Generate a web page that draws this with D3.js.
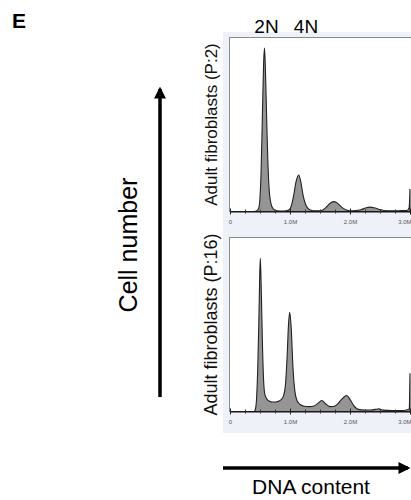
<!DOCTYPE html>
<meta charset="utf-8">
<style>
body { margin: 0; background: #fff; }
text { font-family: "Liberation Sans", Arial, sans-serif; }
.tick text { fill: #555; font-size: 6px; }
</style>
<svg width="411" height="500"></svg>
<script src="https://d3js.org/d3.v7.min.js"></script>
<script>
// DNA content (millions) and cell counts (% of panel height)
var p2DNA   = [0, 0.40, 0.45, 0.48, 0.50, 0.52, 0.54, 0.56, 0.575, 0.59, 0.61, 0.63, 0.65, 0.68, 0.72, 0.78, 0.90, 0.98, 1.02, 1.06, 1.10, 1.145, 1.18, 1.22, 1.26, 1.32, 1.40, 1.50, 1.56, 1.62, 1.68, 1.74, 1.80, 1.86, 1.93, 2.00, 2.10, 2.18, 2.26, 2.33, 2.40, 2.48, 2.56, 2.70, 2.85, 2.95, 2.985, 3.0];
var p2Count = [0, 0, 0.5, 2, 8, 25, 55, 85, 94, 82, 55, 30, 14, 5, 1.5, 0.4, 0.3, 0.8, 3, 9, 17, 21, 17, 9, 4, 1.2, 0.4, 0.4, 1.2, 3, 5, 5.7, 4.5, 2.5, 1, 0.4, 0.5, 1, 2, 2.5, 2.2, 1.3, 0.6, 0.4, 0.5, 0.6, 2, 13];

var p16DNA   = [0, 0.40, 0.42, 0.44, 0.46, 0.48, 0.495, 0.505, 0.52, 0.54, 0.56, 0.58, 0.61, 0.65, 0.70, 0.76, 0.82, 0.88, 0.92, 0.95, 0.975, 0.995, 1.02, 1.05, 1.08, 1.12, 1.17, 1.24, 1.32, 1.40, 1.46, 1.53, 1.60, 1.67, 1.74, 1.80, 1.86, 1.945, 2.00, 2.06, 2.14, 2.25, 2.35, 2.42, 2.48, 2.55, 2.70, 2.90, 2.985, 3.0];
var p16Count = [0, 0, 1, 6, 22, 50, 78, 88, 72, 40, 18, 10, 7.5, 6, 5.5, 5.5, 6, 8, 14, 30, 50, 57, 48, 25, 12, 6, 4, 3, 2.8, 3.2, 4.5, 6.3, 4.2, 2.8, 3, 4.5, 7, 9.2, 7, 3.5, 1.2, 0.9, 0.9, 1.2, 1.5, 0.8, 0.6, 0.6, 1.5, 22];

var majorTicks = [0, 1, 2, 3];
var tickLabels = ["0", "1.0M", "2.0M", "3.0M"];
var minorTicks = d3.range(0, 3.01, 0.25);

var panels = [
  {label: "Adult fibroblasts (P:2)",  dna: p2DNA,  count: p2Count,  top: 37.5,  base: 211.5, bgTop: 32,  bgBottom: 232, fs: 17},
  {label: "Adult fibroblasts (P:16)", dna: p16DNA, count: p16Count, top: 237.5, base: 411.5, bgTop: 232, bgBottom: 433, fs: 18}
];

var svg = d3.select("svg");
var x = d3.scaleLinear().domain([0, 3]).range([230, 410]);

panels.forEach(function(p) {
  var y = d3.scaleLinear().domain([0, 100]).range([p.base, p.top]);
  var g = svg.append("g");

  // light backdrop of the cytometer export
  g.append("rect")
    .attr("x", 223).attr("y", p.bgTop)
    .attr("width", 200).attr("height", p.bgBottom - p.bgTop)
    .attr("fill", "#eef2f8");
  g.append("rect")
    .attr("x", 229.5).attr("y", p.top)
    .attr("width", 190).attr("height", p.base - p.top)
    .attr("fill", "#fff").attr("stroke", "#8a8a8a").attr("stroke-width", 1);

  var pts = p.dna.map(function(d, i) { return [d, p.count[i]]; });

  g.append("path")
    .datum(pts)
    .attr("fill", "#959595")
    .attr("stroke", "#222")
    .attr("stroke-width", 1.1)
    .attr("d", d3.area()
      .curve(d3.curveMonotoneX)
      .x(function(d) { return x(d[0]); })
      .y0(y(0))
      .y1(function(d) { return y(d[1]); }));

  // minor ticks
  var minor = g.append("g")
    .attr("transform", "translate(0," + p.base + ")")
    .call(d3.axisBottom(x).tickValues(minorTicks).tickSize(0).tickFormat(""));
  minor.select(".domain").attr("stroke", "#111").attr("stroke-width", 1.2);
  minor.selectAll(".tick line").attr("y1", -2).attr("y2", 2).attr("stroke", "#333");

  var major = g.append("g")
    .attr("transform", "translate(0," + p.base + ")")
    .call(d3.axisBottom(x).tickValues(majorTicks).tickSize(0).tickPadding(8)
      .tickFormat(function(d, i) { return tickLabels[i]; }));
  major.select(".domain").remove();
  major.selectAll(".tick line").attr("y1", -3).attr("y2", 3).attr("stroke", "#222");
  // last label sits at the clipped right edge: keep it inside the page
  major.selectAll(".tick text").filter(function(d) { return d === 3; })
    .attr("text-anchor", "end").attr("dx", 1);

  svg.append("text")
    .attr("transform", "translate(217," + ((p.top + p.base) / 2) + ") rotate(-90)")
    .attr("text-anchor", "middle")
    .attr("font-size", p.fs)
    .attr("fill", "#111")
    .text(p.label);
});

// panel letter
svg.append("text")
  .attr("x", 12).attr("y", 28)
  .attr("font-size", 21).attr("font-weight", "bold")
  .text("E");

// ploidy labels
svg.append("text").attr("x", 266.5).attr("y", 33).attr("text-anchor", "middle")
  .attr("font-size", 19).text("2N");
svg.append("text").attr("x", 306).attr("y", 33).attr("text-anchor", "middle")
  .attr("font-size", 19).text("4N");

// axis arrows
var defs = svg.append("defs");
defs.append("marker")
  .attr("id", "head")
  .attr("viewBox", "0 0 10 10")
  .attr("refX", 8).attr("refY", 5)
  .attr("markerWidth", 3.4).attr("markerHeight", 3.4)
  .attr("markerUnits", "strokeWidth")
  .attr("orient", "auto")
  .append("path").attr("d", "M0,0 L10,5 L0,10 Z").attr("fill", "#000");

svg.append("line")
  .attr("x1", 160).attr("y1", 397).attr("x2", 160).attr("y2", 89)
  .attr("stroke", "#000").attr("stroke-width", 3.5)
  .attr("marker-end", "url(#head)");

svg.append("line")
  .attr("x1", 223).attr("y1", 468).attr("x2", 408).attr("y2", 468)
  .attr("stroke", "#000").attr("stroke-width", 3.5)
  .attr("marker-end", "url(#head)");

svg.append("text")
  .attr("transform", "translate(137,245) rotate(-90)")
  .attr("text-anchor", "middle")
  .attr("font-size", 25)
  .text("Cell number");

svg.append("text")
  .attr("x", 311).attr("y", 494)
  .attr("text-anchor", "middle")
  .attr("font-size", 21)
  .text("DNA content");
</script>
